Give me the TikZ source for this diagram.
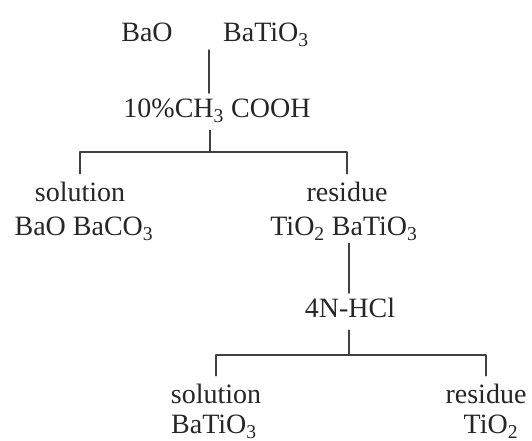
\documentclass[tikz,border=0pt]{standalone}
\usepackage{fontspec}
\setmainfont{Liberation Serif}
\usepackage{tikz}
\usetikzlibrary{calc,positioning}
\tikzset{
  every picture/.append style={line cap=round,line join=round},
  flow text/.style={font=\fontsize{21}{25}\selectfont,text=black!85,anchor=base,
    text height=14.5pt,text depth=5pt,inner xsep=0pt,inner ysep=0.5pt},
  flow head/.style={flow text,inner ysep=6.5pt},
  flow reagent/.style={flow text,inner ysep=4pt},
  flow line/.style={black!75,line width=1.1pt}
}
\begin{document}
\begin{tikzpicture}[x=0.75pt,y=-0.75pt]
\useasboundingbox (0,0) rectangle (532,441);
% starting powder and first leach
\node[flow text] (bao) at (147,42) {BaO};
\node[flow text] (batio) at (266,42) {BaTiO\textsubscript{3}};
\node[flow reagent] (acid) at (217,118) {10\%CH\textsubscript{3} COOH};
\coordinate (top) at (209,50);
\coordinate (j1) at (210,152);
\draw[flow line] (top) -- (top |- acid.north);
\draw[flow line] (acid.south -| j1) -- (j1);
\node[flow head] (sol1) at (80,202) {solution};
\node[flow text] (sol1sp) at (84,236) {BaO BaCO\textsubscript{3}};
\node[flow head] (res1) at (347,202) {residue};
\node[flow text] (res1sp) at (344,236) {TiO\textsubscript{2} BaTiO\textsubscript{3}};
\draw[flow line] (sol1.north) |- (j1) -| (res1.north);
% second leach
\node[flow reagent] (hcl) at (350,318) {4N-HCl};
\coordinate (j2) at (349,355);
\draw[flow line] (res1sp.south -| j2) -- (hcl.north -| j2);
\draw[flow line] (hcl.south -| j2) -- (j2);
\node[flow head] (sol2) at (216,404) {solution};
\node[flow text] (sol2sp) at (214,434) {BaTiO\textsubscript{3}};
\node[flow head] (res2) at (486,404) {residue};
\node[flow text] (res2sp) at (491,434) {TiO\textsubscript{2}};
\draw[flow line] (sol2.north) |- (j2) -| (res2.north);
\end{tikzpicture}
\end{document}
